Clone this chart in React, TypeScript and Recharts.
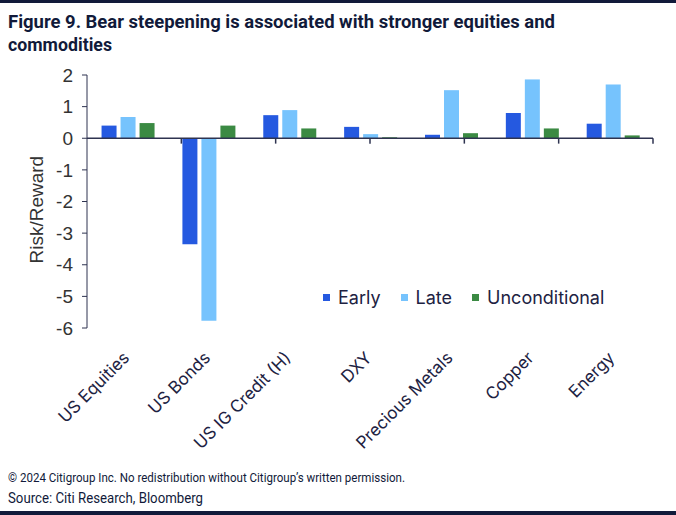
import React from 'react'
import {
    BarChart,
    Bar,
    XAxis,
    YAxis,
    Legend,
    ReferenceLine,
} from "recharts";

const categories = ["US Equities", "US Bonds", "US IG Credit (H)", "DXY", "Precious Metals", "Copper", "Energy"];
const early = [0.40, -3.35, 0.73, 0.36, 0.11, 0.80, 0.46];
const late = [0.67, -5.77, 0.89, 0.13, 1.52, 1.86, 1.70];
const unconditional = [0.48, 0.40, 0.31, 0.03, 0.16, 0.31, 0.09];
const yTicks = [2, 1, 0, -1, -2, -3, -4, -5, -6];
const boundaries = [1, 2, 3, 4, 5, 6, 7];

const data = categories.map((name, i) => ({
    name,
    early: early[i],
    late: late[i],
    unconditional: unconditional[i],
}));

const NAVY = "#111a3a";
const AXIS = "#2e3350";

const XTick = (props: any) => {
    const { x, y, payload } = props;
    const tx = x + 3;
    const ty = y + 31;
    return (
        <text
            x={tx}
            y={ty}
            transform={`rotate(-45, ${tx}, ${ty})`}
            textAnchor="end"
            fontFamily="Inter"
            fontSize={17}
            fill="#1d2242"
        >
            {payload.value}
        </text>
    );
};

const LegendContent = (props: any) => {
    const { payload } = props;
    return (
        <div style={{ display: "flex", alignItems: "center", fontFamily: "Inter", fontSize: 18, color: "#1d2242" }}>
            {payload.map((p: any) => (
                <div key={p.value} style={{ display: "flex", alignItems: "center", marginRight: 20 }}>
                    <span style={{ width: 7, height: 7, background: p.color, display: "inline-block", marginRight: 8 }} />
                    <span>{p.value}</span>
                </div>
            ))}
        </div>
    );
};

export default function App() {
    return (
        <div style={{ position: "absolute", left: 0, top: 0, width: 676, height: 515, background: "#fff" }}>
            <BarChart
                width={676}
                height={515}
                data={data}
                margin={{ top: 75, right: 23, bottom: 0, left: 27 }}
                barCategoryGap="18%"
                barGap={4}
            >
                <XAxis
                    dataKey="name"
                    height={187}
                    axisLine={false}
                    tickLine={false}
                    tickSize={0}
                    tickMargin={0}
                    interval={0}
                    tick={<XTick />}
                />
                <XAxis xAxisId="grid" type="number" domain={[0, 7]} hide />
                <YAxis
                    width={60}
                    domain={[-6, 2]}
                    ticks={yTicks}
                    interval={0}
                    stroke={AXIS}
                    tickSize={5}
                    tickMargin={9}
                    tick={{ fill: "#333333", fontSize: 19, fontFamily: "Liberation Sans" }}
                    label={{
                        value: "Risk/Reward",
                        angle: -90,
                        position: "insideLeft",
                        dx: 4,
                        dy: 62,
                        style: { fill: "#333333", fontSize: 19, fontFamily: "Liberation Sans" },
                    }}
                />
                <ReferenceLine y={0} stroke={AXIS} strokeWidth={1.5} />
                {boundaries.map((b) => (
                    <ReferenceLine
                        key={b}
                        xAxisId="grid"
                        segment={[{ x: b, y: 0 }, { x: b, y: -0.17 }]}
                        stroke={AXIS}
                        strokeWidth={1.5}
                    />
                ))}
                <Legend
                    layout="horizontal"
                    verticalAlign="middle"
                    align="center"
                    content={<LegendContent />}
                    wrapperStyle={{ left: 323, top: 287, width: "auto" }}
                />
                <Bar dataKey="early" name="Early" fill="#2559e0" isAnimationActive={false} />
                <Bar dataKey="late" name="Late" fill="#76c3fd" isAnimationActive={false} />
                <Bar dataKey="unconditional" name="Unconditional" fill="#3b8a43" isAnimationActive={false} />
            </BarChart>
            <svg width={676} height={515} style={{ position: "absolute", left: 0, top: 0, pointerEvents: "none" }}>
                <rect x={0} y={0} width={676} height={3} fill={NAVY} />
                <text x={8} y={28} fontFamily="Roboto" fontWeight="bold" fontSize={19} fill={NAVY}
                    textLength={547} lengthAdjust="spacingAndGlyphs">
                    Figure 9. Bear steepening is associated with stronger equities and
                </text>
                <text x={8} y={51} fontFamily="Roboto" fontWeight="bold" fontSize={19} fill={NAVY}
                    textLength={104} lengthAdjust="spacingAndGlyphs">
                    commodities
                </text>
                <text x={8} y={482} fontFamily="Roboto" fontSize={13} fill={NAVY}
                    textLength={397} lengthAdjust="spacingAndGlyphs">
                    © 2024 Citigroup Inc. No redistribution without Citigroup’s written permission.
                </text>
                <text x={8} y={503} fontFamily="Roboto" fontSize={14} fill={NAVY}
                    textLength={195} lengthAdjust="spacingAndGlyphs">
                    Source: Citi Research, Bloomberg
                </text>
                <rect x={0} y={511} width={676} height={4} fill={NAVY} />
            </svg>
        </div>
    );
}
